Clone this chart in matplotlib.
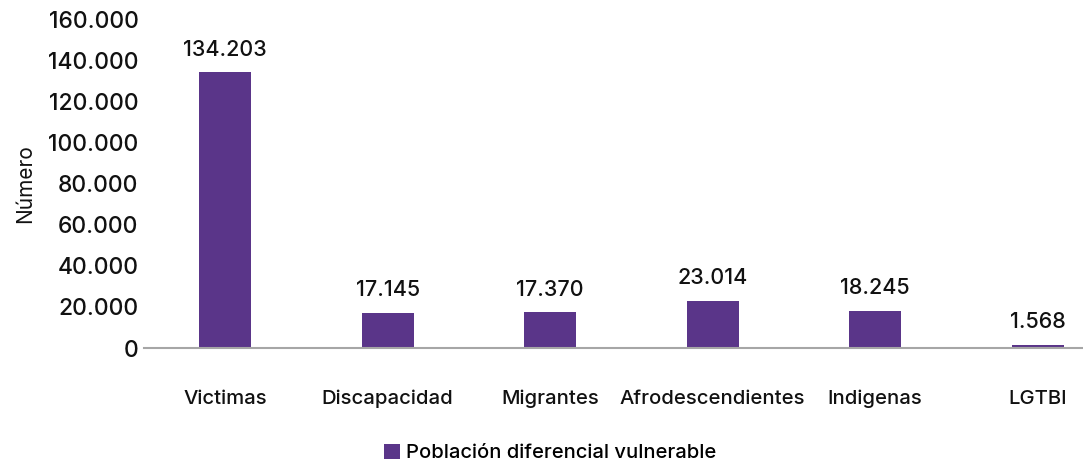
import matplotlib
matplotlib.use("Agg")
import matplotlib.pyplot as plt
from matplotlib.ticker import FuncFormatter

categories = ["Victimas", "Discapacidad", "Migrantes", "Afrodescendientes", "Indigenas", "LGTBI"]
values = [134203, 17145, 17370, 23014, 18245, 1568]
series_name = "Población diferencial vulnerable"

PURPLE = "#5a3589"
plt.rcParams["font.family"] = ["Inter", "DejaVu Sans"]
plt.rcParams["font.weight"] = 500


def miles(v):
    return f"{int(v):,}".replace(",", ".")


fig = plt.figure(figsize=(10.83, 4.66), dpi=100)
ax = fig.add_axes([0.133, 0.253, 0.867, 0.706])

x = range(len(categories))
bars = ax.bar(x, values, width=0.32, color=PURPLE, label=series_name, zorder=2)
for xi, v in zip(x, values):
    ax.annotate(miles(v), (xi, v), xytext=(0, 9), textcoords="offset points",
                ha="center", va="bottom", fontsize=15.5, color="#111111")

ax.set_ylim(0, 160000)
ax.set_xlim(-0.5, 5.28)
ax.set_yticks(range(0, 160001, 20000))
ax.yaxis.set_major_formatter(FuncFormatter(lambda v, _: miles(v)))
ax.set_xticks(list(x))
ax.set_xticklabels(categories)
ax.tick_params(axis="y", length=0, pad=4, labelsize=16.5, labelcolor="#111111")
ax.tick_params(axis="x", length=0, pad=30, labelsize=14.6, labelcolor="#111111")

for side in ("top", "right", "left"):
    ax.spines[side].set_visible(False)
ax.spines["bottom"].set_color("#a6a6a6")
ax.spines["bottom"].set_linewidth(1.5)

ax.set_ylabel("Número", fontsize=15, color="#111111", labelpad=9)

fig.legend(handles=[bars], labels=[series_name], loc="center", bbox_to_anchor=(0.508, 0.028),
           frameon=False, fontsize=14.5, handlelength=0.75, handleheight=0.75,
           handletextpad=0.3)

fig.savefig("out.png", facecolor="white")
